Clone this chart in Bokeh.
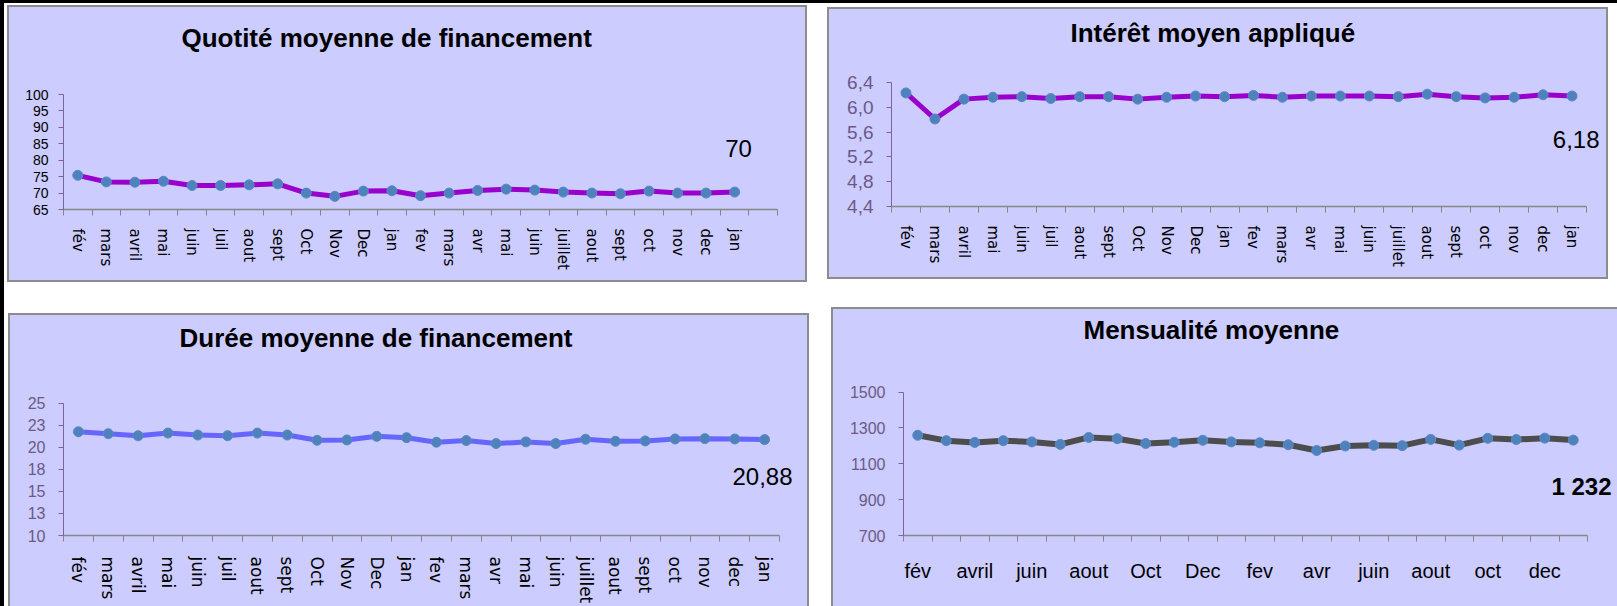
from bokeh.plotting import figure
from bokeh.models import Range1d, FixedTicker, Label
from bokeh.layouts import column, row
from bokeh.embed import file_html
from bokeh.resources import INLINE

# ---------------- data ----------------
MONTHS = ["fév", "mars", "avril", "mai", "juin", "juil", "aout", "sept", "Oct", "Nov",
          "Dec", "jan", "fev", "mars", "avr", "mai", "juin", "juillet", "aout", "sept",
          "oct", "nov", "dec", "jan"]

QUOTITE = [75.4, 73.4, 73.3, 73.6, 72.3, 72.3, 72.5, 72.8, 70.0, 69.0, 70.6, 70.7,
           69.2, 70.0, 70.8, 71.2, 70.9, 70.3, 70.0, 69.8, 70.6, 70.0, 70.0, 70.3]
INTERET = [6.23, 5.81, 6.13, 6.16, 6.17, 6.14, 6.17, 6.17, 6.13, 6.16, 6.18, 6.17,
           6.19, 6.16, 6.18, 6.18, 6.18, 6.17, 6.21, 6.17, 6.15, 6.16, 6.20, 6.18]
DUREE = [21.77, 21.55, 21.32, 21.62, 21.40, 21.32, 21.62, 21.40, 20.80, 20.84, 21.25, 21.10,
         20.58, 20.77, 20.43, 20.62, 20.43, 20.92, 20.69, 20.73, 20.95, 20.99, 20.95, 20.88]
MENSUALITE = [1259, 1229, 1219, 1229, 1222, 1208, 1247, 1240, 1213, 1220, 1231, 1222,
              1217, 1206, 1174, 1199, 1203, 1201, 1236, 1204, 1242, 1235, 1243, 1232]

QUOTITE_YTICKS = [65, 70, 75, 80, 85, 90, 95, 100]
QUOTITE_YLABELS = ["65", "70", "75", "80", "85", "90", "95", "100"]
INTERET_YTICKS = [4.4, 4.8, 5.2, 5.6, 6.0, 6.4]
INTERET_YLABELS = ["4,4", "4,8", "5,2", "5,6", "6,0", "6,4"]
DUREE_YTICKS = [10, 12.5, 15, 17.5, 20, 22.5, 25]
DUREE_YLABELS = ["10", "13", "15", "18", "20", "23", "25"]
MENS_YTICKS = [700, 900, 1100, 1300, 1500]
MENS_YLABELS = ["700", "900", "1100", "1300", "1500"]

TITLES = ["Quotité moyenne de financement", "Intérêt moyen appliqué",
          "Durée moyenne de financement", "Mensualité moyenne"]
LAST_LABELS = ["70", "6,18", "20,88", "1 232"]

# ---------------- style ----------------
PANEL_BG = "#CCCCFF"
BORDER = "#8c8c8c"
MARKER = "#4F81BD"
YAXIS_COL = "#7E649E"
XAXIS_COL = "#868686"
YLAB_COL = "#6B5A86"
SANS = "Liberation Sans"
VERD = "DejaVu Sans"


def make_panel(title, values, ylim, yticks, ylabels, nslots, line_color, line_width,
               w, h, ml, mb, top_px, right_px, margin, shadow,
               ylab_size, ylab_col, ylab_standoff,
               xlab_every, xlab_font, xlab_size, xlab_orient, xlab_standoff,
               title_xy, last_label, last_xy, last_align, last_bold):
    ymin, ymax = ylim
    # frame fills the panel up to its top and right edges; axes are bounded
    axis_h = h - mb - top_px
    axis_w = w - ml - right_px
    y_end = ymin + (ymax - ymin) * (h - mb) / axis_h
    x_end = nslots * (w - ml) / axis_w

    p = figure(width=w, height=h, x_range=Range1d(0, x_end), y_range=Range1d(ymin, y_end),
               title=None, output_backend="svg", toolbar_location=None,
               min_border_left=ml, min_border_right=0, min_border_top=0,
               min_border_bottom=mb, margin=margin,
               styles={"background-color": PANEL_BG, "box-shadow": shadow})
    p.border_fill_alpha = 0
    p.background_fill_alpha = 0
    p.outline_line_color = None
    p.xgrid.visible = False
    p.ygrid.visible = False

    xs = [i + 0.5 for i in range(len(values))]
    p.line(xs, values, line_color=line_color, line_width=line_width, line_join="round")
    p.scatter(xs, values, size=10, fill_color=MARKER, line_color="#5A8AC6", line_width=1)

    # x axis: tick marks between categories, labels at category centres
    centers = [xs[i] for i in range(0, len(MONTHS), xlab_every)]
    xa = p.xaxis[0]
    xa.bounds = (0, nslots)
    xa.ticker = FixedTicker(ticks=centers, minor_ticks=list(range(0, nslots + 1)))
    xa.major_label_overrides = {xs[i]: MONTHS[i] for i in range(0, len(MONTHS), xlab_every)}
    xa.major_tick_out = 0
    xa.major_tick_in = 0
    xa.minor_tick_out = 6
    xa.minor_tick_in = 0
    xa.minor_tick_line_color = XAXIS_COL
    xa.axis_line_color = XAXIS_COL
    xa.axis_line_width = 1.5
    xa.major_label_text_font = xlab_font
    xa.major_label_text_font_size = f"{xlab_size}px"
    xa.major_label_text_color = "#000000"
    xa.major_label_orientation = xlab_orient
    xa.major_label_standoff = xlab_standoff

    ya = p.yaxis[0]
    ya.bounds = (ymin, ymax)
    ya.ticker = FixedTicker(ticks=yticks, minor_ticks=[])
    ya.major_label_overrides = {t: l for t, l in zip(yticks, ylabels)}
    ya.axis_line_color = YAXIS_COL
    ya.major_tick_line_color = YAXIS_COL
    ya.major_tick_out = 5
    ya.major_tick_in = 0
    ya.minor_tick_out = 0
    ya.minor_tick_in = 0
    ya.major_label_text_font = SANS
    ya.major_label_text_font_size = f"{ylab_size}px"
    ya.major_label_text_color = ylab_col
    ya.major_label_standoff = ylab_standoff

    p.add_layout(Label(x=title_xy[0], y=title_xy[1], x_units="screen", y_units="screen",
                       text=title, text_font=SANS, text_font_style="bold",
                       text_font_size="26px", text_color="#000000",
                       text_baseline="alphabetic", text_align="left"))
    p.add_layout(Label(x=last_xy[0], y=last_xy[1], x_units="screen", y_units="screen",
                       text=last_label, text_font=SANS,
                       text_font_style="bold" if last_bold else "normal",
                       text_font_size="24px", text_color="#000000",
                       text_baseline="alphabetic", text_align=last_align))
    return p


sh_full = f"inset 2px 2px 0 0 {BORDER}, inset -2px -2px 0 0 {BORDER}"
sh_bl = f"inset 2px 2px 0 0 {BORDER}, inset -2px 0 0 0 {BORDER}"
sh_br = f"inset 2px 2px 0 0 {BORDER}"

p1 = make_panel(TITLES[0], QUOTITE, (65, 100), QUOTITE_YTICKS, QUOTITE_YLABELS, 25,
                "#9900CC", 5, 800, 277, 56, 73, 89, 30, (5, 0, 0, 7), sh_full,
                14, "#000000", 10, 1, VERD, 15, "vertical", 13,
                (118, 172), LAST_LABELS[0], (675, 61), "center", False)
p2 = make_panel(TITLES[1], INTERET, (4.4, 6.4), INTERET_YTICKS, INTERET_YLABELS, 24,
                "#9900CC", 5, 781, 272, 64, 70, 76, 22, (7, 0, 0, 20), sh_full,
                19, YLAB_COL, 13, 1, VERD, 15, "vertical", 13,
                (179, 174), LAST_LABELS[1], (708, 67), "right", False)
p3 = make_panel(TITLES[2], DUREE, (10, 25), DUREE_YTICKS, DUREE_YLABELS, 24,
                "#6666FF", 5, 801, 293, 55, 68, 91, 30, (31, 0, 0, 8), sh_bl,
                16, YLAB_COL, 13, 1, VERD, 17, "vertical", 15,
                (116, 198), LAST_LABELS[2], (729, 59), "right", False)
p4 = make_panel(TITLES[3], MENSUALITE, (700, 1500), MENS_YTICKS, MENS_YLABELS, 24,
                "#4D4D4D", 6, 786, 299, 72, 59, 89, 30, (25, 0, 0, 22), sh_br,
                16, YLAB_COL, 13, 2, SANS, 20, "horizontal", 18,
                (180, 206), LAST_LABELS[3], (708, 49), "right", True)

layout = column(row(p1, p2), row(p3, p4),
                styles={"box-shadow": "inset 4px 3px 0 0 #000000"})

open("out.html", "w").write(file_html(layout, INLINE))
